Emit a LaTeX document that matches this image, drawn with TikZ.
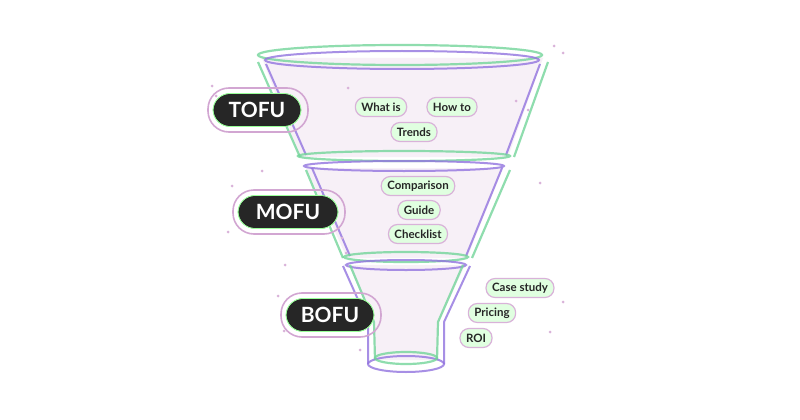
\documentclass[tikz,border=0pt]{standalone}
\usepackage{fontspec}
\setmainfont{Lato}
\begin{document}
\begin{tikzpicture}[x=1pt,y=-1pt,
  grn/.style={draw=green!60!cyan!70!black!55!white, line width=2.2pt, opacity=.8},
  prp/.style={draw=violet!45!blue!55!white, line width=2pt, opacity=.8},
  stage/.style={rounded corners=17pt, fill=black!85, text=white, font=\bfseries\fontsize{21}{21}\selectfont, minimum height=33pt, inner xsep=14pt, double=green!40, draw=green!40!white, line width=0pt},
  ring/.style={draw=violet!35, line width=1.6pt, rounded corners=21pt},
  tag/.style={rounded corners=9pt, fill=green!12, draw=violet!30, line width=1.2pt, font=\bfseries\fontsize{11.5}{12}\selectfont, text=black!85, minimum height=19pt, inner xsep=6pt},
  spk/.style={fill=violet!30, circle, inner sep=0pt, minimum size=3pt}]
\useasboundingbox (0,0) rectangle (800,420);
\fill[white] (0,0) rectangle (800,420);
% funnel fills
\fill[violet!6] (262,58) -- (300,157) -- (508,157) -- (543,58) -- cycle;
\fill[violet!6] (306,168) -- (347,258) -- (467,258) -- (503,168) -- cycle;
\fill[violet!6] (349,265) -- (373,322) -- (375,360) -- (437,360) -- (439,322) -- (465,265) -- cycle;
% section 1
\draw[grn] (400,55) ellipse (142 and 10);
\draw[prp] (402,60) ellipse (137 and 9);
\draw[grn] (258,62) -- (300,157);  \draw[grn] (548,62) -- (514,157);
\draw[prp] (266,64) -- (306,155);  \draw[prp] (540,64) -- (506,155);
\draw[grn] (404,156) ellipse (106 and 5);
% section 2
\draw[prp] (404,166) ellipse (100 and 5);
\draw[grn] (306,170) -- (343,258); \draw[grn] (510,170) -- (472,258);
\draw[prp] (312,168) -- (350,256); \draw[prp] (502,168) -- (466,256);
\draw[grn] (406,257) ellipse (62 and 5);
% section 3
\draw[prp] (406,265) ellipse (60 and 5);
\draw[prp] (343,266) -- (368,322) -- (368,364); \draw[prp] (470,266) -- (444,322) -- (444,364);
\draw[grn] (350,265) -- (374,322) -- (375,360); \draw[grn] (463,265) -- (438,322) -- (437,360);
\draw[prp] (406,364) ellipse (38 and 8);
\draw[grn] (406,358) ellipse (31 and 6);
% stages
\node[ring, minimum width=100pt, minimum height=44pt] (tr) at (258,110) {};
\node[stage, minimum width=88pt] (tofu) at (257,110) {TOFU};
\node[ring, minimum width=112pt, minimum height=44pt] (mr) at (289,212) {};
\node[stage, minimum width=100pt] (mofu) at (288,212) {MOFU};
\node[ring, minimum width=100pt, minimum height=44pt] (br) at (331,315) {};
\node[stage, minimum width=88pt] (bofu) at (330,315) {BOFU};
% tags
\node[tag] (t1) at (381,107) {What is};
\node[tag] (t2) at (452,107) {How to};
\node[tag] (t3) at (414,132) {Trends};
\node[tag] (m1) at (418,186) {Comparison};
\node[tag] (m2) at (419,210) {Guide};
\node[tag] (m3) at (418,234) {Checklist};
\node[tag] (b1) at (520,288) {Case study};
\node[tag] (b2) at (492,313) {Pricing};
\node[tag] (b3) at (476,338) {ROI};
% sparkles
\foreach \p [count=\i] in {(554,46),(563,53),(212,86),(216,96),(348,88),(516,101),(528,110),(262,171),(232,186),(228,232),(342,238),(540,183),(285,265),(278,296),(284,331),(563,302),(346,253),(360,350),(550,332)}
  \node[spk] (s\i) at \p {};
\end{tikzpicture}
\end{document}
